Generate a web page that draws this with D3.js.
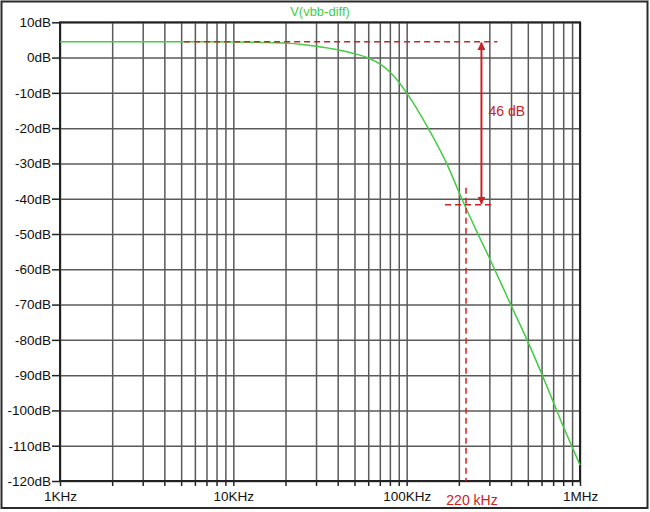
<!DOCTYPE html>
<html>
<head>
<meta charset="utf-8">
<script src="https://cdn.jsdelivr.net/npm/d3@7"></script>
<style>
  html, body { margin: 0; padding: 0; background: #fff; }
  svg { display: block; font-family: "Liberation Sans", Arial, sans-serif; }
</style>
</head>
<body>
<svg id="chart" width="650" height="512"></svg>
<script>
// ---- data ----
const seriesName = "V(vbb-diff)";
const freqs = [1e3, 5e3, 10e3, 15e3, 20e3, 25e3, 30e3, 40e3, 50e3, 60e3, 70e3, 80e3, 90e3, 100e3,
               133e3, 170e3, 208e3, 250e3, 300e3, 400e3, 500e3, 600e3, 700e3, 800e3, 900e3, 1e6];
const gainDb = [4.5, 4.5, 4.45, 4.3, 4.1, 3.7, 3.2, 2.2, 1.1, -0.1, -1.8, -4.1, -6.9, -10,
                -20, -30, -40, -48.6, -56.8, -70.2, -80.5, -89.5, -97.5, -104.5, -110.3, -115.5];
const yTicks = [10, 0, -10, -20, -30, -40, -50, -60, -70, -80, -90, -100, -110, -120];
const yTickLabels = ["10dB", "0dB", "-10dB", "-20dB", "-30dB", "-40dB", "-50dB", "-60dB",
                     "-70dB", "-80dB", "-90dB", "-100dB", "-110dB", "-120dB"];
const xDecades = [1e3, 1e4, 1e5, 1e6];
const xDecadeLabels = ["1KHz", "10KHz", "100KHz", "1MHz"];
const xMultipliers = [1, 2, 3, 4, 5, 6, 7, 8, 9];
// annotation values
const refLevelDb = 4.5;       // passband level
const markFreq = 220e3;       // marker frequency
const markLevelDb = -41.7;    // level at marker
const refLineStartFreq = 5.2e3;
const annotText = "46 dB";
const annotLabelDb = -16.5;
const markLabel = "220 kHz";
const arrowFreq = 270e3;

// ---- layout ----
const svg = d3.select("#chart");
const pL = 60, pR = 580, pT = 22.3, pB = 481;
const x = d3.scaleLog().domain([1e3, 1e6]).range([pL, pR]);
const y = d3.scaleLinear().domain([-120, 10]).range([pB, pT]);
const gridColor = "#5a5a5a";
const red = "#cc2222";
const green = "#44cc44";

// outer frame
svg.append("rect").attr("x", 1.5).attr("y", 1.5).attr("width", 646).attr("height", 506.5)
  .attr("fill", "#fff").attr("stroke", "#2a2a2a").attr("stroke-width", 2);

// all minor x tick values
const xAll = [];
xDecades.slice(0, 3).forEach(d => xMultipliers.forEach(m => xAll.push(d * m)));
xAll.push(1e6);

// vertical grid
const gx = svg.append("g").attr("transform", `translate(0,${pB})`)
  .call(d3.axisBottom(x).tickValues(xAll).tickSize(-(pB - pT)).tickSizeOuter(0).tickFormat(""));
gx.select(".domain").remove();
gx.selectAll("line").attr("stroke", gridColor).attr("stroke-width", 1.5);

// bottom ticks + labels
const gxb = svg.append("g").attr("transform", `translate(0,${pB})`)
  .call(d3.axisBottom(x).tickValues(xAll).tickSize(5).tickPadding(5).tickSizeOuter(0)
    .tickFormat(d => { const i = xDecades.indexOf(d); return i >= 0 ? xDecadeLabels[i] : ""; }));
gxb.select(".domain").remove();
gxb.selectAll("line").attr("stroke", "#222").attr("stroke-width", 1.5);
gxb.selectAll("text").attr("font-size", 13.5).attr("fill", "#111")
  .attr("font-family", "'Liberation Sans', Arial, sans-serif");

// horizontal grid
const gy = svg.append("g").attr("transform", `translate(${pL},0)`)
  .call(d3.axisLeft(y).tickValues(yTicks).tickSize(-(pR - pL)).tickSizeOuter(0).tickFormat(""));
gy.select(".domain").remove();
gy.selectAll("line").attr("stroke", gridColor).attr("stroke-width", 1.5);

// left ticks + labels
const gyl = svg.append("g").attr("transform", `translate(${pL},0)`)
  .call(d3.axisLeft(y).tickValues(yTicks).tickSize(8).tickPadding(1).tickSizeOuter(0)
    .tickFormat((d, i) => yTickLabels[i]));
gyl.select(".domain").remove();
gyl.selectAll("line").attr("stroke", "#222").attr("stroke-width", 1.5);
gyl.selectAll("text").attr("font-size", 13.5).attr("fill", "#111")
  .attr("font-family", "'Liberation Sans', Arial, sans-serif");

// plot box
svg.append("rect").attr("x", pL).attr("y", pT).attr("width", pR - pL).attr("height", pB - pT)
  .attr("fill", "none").attr("stroke", "#222").attr("stroke-width", 2);

// title
svg.append("text").attr("x", 320).attr("y", 16).attr("text-anchor", "middle")
  .attr("font-size", 13).attr("fill", "#3fcf3f").text(seriesName);

// curve
const pts = freqs.map((f, i) => [f, gainDb[i]]);
svg.append("path").datum(pts)
  .attr("fill", "none").attr("stroke", green).attr("stroke-width", 1.5)
  .attr("d", d3.line().x(d => x(d[0])).y(d => y(d[1])).curve(d3.curveMonotoneX));

// annotations
const dash = "6,4";
svg.append("line").attr("x1", x(refLineStartFreq)).attr("x2", x(300e3) + 8)
  .attr("y1", y(refLevelDb)).attr("y2", y(refLevelDb))
  .attr("stroke", red).attr("stroke-width", 1.5).attr("stroke-dasharray", dash);
svg.append("line").attr("x1", x(markFreq) - 21).attr("x2", x(markFreq) + 25)
  .attr("y1", y(markLevelDb)).attr("y2", y(markLevelDb))
  .attr("stroke", red).attr("stroke-width", 1.5).attr("stroke-dasharray", dash);
svg.append("line").attr("x1", x(markFreq)).attr("x2", x(markFreq))
  .attr("y1", y(markLevelDb) - 17).attr("y2", pB)
  .attr("stroke", red).attr("stroke-width", 1.5).attr("stroke-dasharray", dash);

// arrow
const defs = svg.append("defs");
defs.append("marker").attr("id", "ah").attr("viewBox", "0 0 10 10").attr("refX", 9).attr("refY", 5)
  .attr("markerWidth", 4).attr("markerHeight", 4).attr("orient", "auto-start-reverse")
  .append("path").attr("d", "M0,0 L10,5 L0,10 Z").attr("fill", red);
svg.append("line").attr("x1", x(arrowFreq)).attr("x2", x(arrowFreq))
  .attr("y1", y(refLevelDb) + 1).attr("y2", y(markLevelDb) - 1)
  .attr("stroke", red).attr("stroke-width", 2)
  .attr("marker-start", "url(#ah)").attr("marker-end", "url(#ah)");
svg.append("text").attr("x", x(arrowFreq) + 7).attr("y", y(annotLabelDb))
  .attr("font-size", 14).attr("fill", red).text(annotText);
svg.append("text").attr("x", x(markFreq) + 6).attr("y", 505).attr("text-anchor", "middle")
  .attr("font-size", 14).attr("fill", red).text(markLabel);
</script>
</body>
</html>
